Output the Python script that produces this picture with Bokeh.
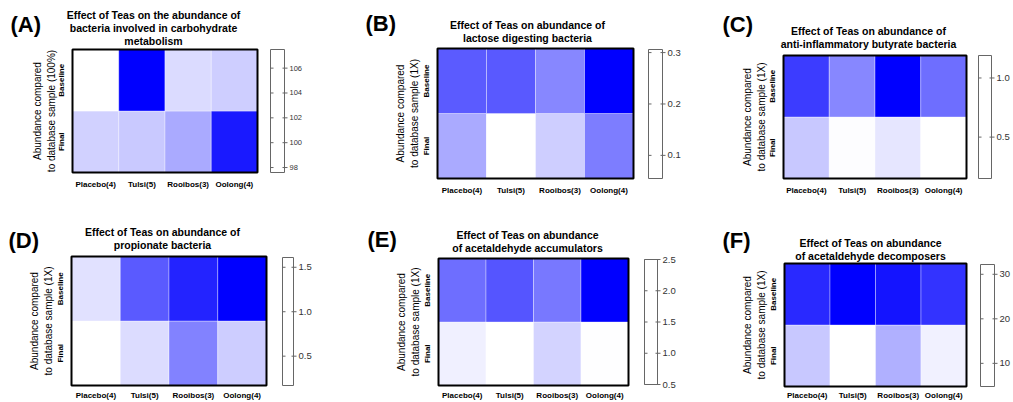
import math
from bokeh.plotting import figure
from bokeh.models import Range1d, LinearColorMapper, ColumnDataSource
from bokeh.core.properties import value
from bokeh.layouts import row, column
from bokeh.embed import file_html
from bokeh.resources import INLINE

# ---------------- data ----------------
teas = ["Placebo(4)", "Tulsi(5)", "Rooibos(3)", "Oolong(4)"]
conditions = ["Final", "Baseline"]

a_baseline = [97.6, 107.5, 99.0, 99.5]
a_final = [99.4, 99.7, 100.9, 106.5]
a_cb_range = [97.6, 107.5]
a_ticks = [98, 100, 102, 104, 106]

b_baseline = [0.216, 0.218, 0.173, 0.306]
b_final = [0.139, 0.055, 0.104, 0.183]
b_cb_range = [0.055, 0.306]
b_ticks = [0.1, 0.2, 0.3]

c_baseline = [0.946, 0.639, 1.19, 0.743]
c_final = [0.375, 0.16, 0.254, 0.15]
c_cb_range = [0.15, 1.19]
c_ticks = [0.5, 1.0]

d_baseline = [0.34, 1.10, 1.41, 1.61]
d_final = [0.17, 0.367, 0.876, 0.452]
d_cb_range = [0.17, 1.61]
d_ticks = [0.5, 1.0, 1.5]

e_baseline = [1.64, 1.83, 1.56, 2.5]
e_final = [0.62, 0.5, 0.85, 0.51]
e_cb_range = [0.5, 2.5]
e_ticks = [0.5, 1.0, 1.5, 2.0, 2.5]

f_baseline = [27.8, 32.2, 30.0, 26.7]
f_final = [10.7, 4.8, 13.3, 6.4]
f_cb_range = [4.8, 32.2]
f_ticks = [10, 20, 30]

letters = ["(A)", "(B)", "(C)", "(D)", "(E)", "(F)"]
titles = [
    "Effect of Teas on the abundance of\nbacteria involved in carbohydrate\nmetabolism",
    "Effect of Teas on abundance of\nlactose digesting bacteria",
    "Effect of Teas on abundance of\nanti-inflammatory butyrate bacteria",
    "Effect of Teas on abundance of\npropionate bacteria",
    "Effect of Teas on abundance\nof acetaldehyde accumulators",
    "Effect of Teas on abundance\nof acetaldehyde decomposers",
]
ylabel_pct = "Abundance compared\nto database sample (100%)"
ylabel_x = "Abundance compared\nto database sample (1X)"

# ---------------- style / layout (page pixels) ----------------
FONT = value("Liberation Sans")
PALETTE = ["#%02x%02xff" % (255 - i, 255 - i) for i in range(256)]
GRAY = "#666666"

# fig (x0, y0, w, h); heatmap x (left, right) / y (top, bottom); colourbar x (left, right) / y (top, bottom)
LAYOUT = [
    dict(fig=(0, 0, 330, 200), hx=(72, 257), hy=(49, 172), cx=(270, 284), cy=(49, 172),
         title=(153, 15), letter=(10, 24), cbfont="7.5px", ylab=28, xlab=12),
    dict(fig=(330, 0, 360, 200), hx=(437, 633), hy=(48, 178), cx=(648, 662), cy=(49, 178),
         title=(527, 25), letter=(365, 22.5), cbfont="9.5px", ylab=30, xlab=12),
    dict(fig=(690, 0, 322, 200), hx=(783, 966), hy=(55, 178), cx=(978, 991), cy=(55, 178),
         title=(868, 31), letter=(722, 24), cbfont="9.5px", ylab=29, xlab=12),
    dict(fig=(0, 200, 335, 201), hx=(71, 266), hy=(256, 385), cx=(282, 293), cy=(257, 385),
         title=(162, 232), letter=(8, 239.5), cbfont="9.5px", ylab=30, xlab=9.5),
    dict(fig=(335, 200, 355, 201), hx=(438, 628), hy=(258, 385), cx=(644, 657), cy=(259, 384),
         title=(527, 235), letter=(367, 239), cbfont="9.5px", ylab=30, xlab=9.5),
    dict(fig=(690, 200, 322, 201), hx=(784, 966), hy=(263, 386), cx=(980, 994), cy=(264, 386),
         title=(870, 243), letter=(722, 240), cbfont="9.5px", ylab=30, xlab=8.5),
]


def panel(idx, ylabel, baseline, final, cb_range, cb_ticks, fmt):
    L = LAYOUT[idx]
    x0, y0, w, h = L["fig"]
    hl, hr = L["hx"]
    ht, hb = L["hy"]
    cl, cr = L["cx"]
    ct, cbm = L["cy"]
    nx, ny = len(teas), len(conditions)
    ux = (hr - hl) / nx
    uy = (hb - ht) / ny
    lo, hi = cb_range
    per_px = (hi - lo) / (cbm - ct)

    def X(px):  # page x -> data x
        return (px - hl) / ux

    def Y(py):  # page y -> data y
        return (hb - py) / uy

    p = figure(width=w, height=h, x_range=Range1d(X(x0), X(x0 + w)),
               y_range=Range1d(Y(y0 + h), Y(y0)),
               output_backend="svg", toolbar_location=None,
               x_axis_location=None, y_axis_location=None,
               min_border_left=0, min_border_right=0, min_border_top=0, min_border_bottom=0)
    p.extra_y_ranges = {"cb": Range1d(lo + (cbm - (y0 + h)) * per_px, lo + (cbm - y0) * per_px)}
    p.xgrid.visible = False
    p.ygrid.visible = False
    p.outline_line_color = None
    p.title.visible = False
    p.background_fill_color = "white"
    p.border_fill_color = "white"

    # heatmap cells
    xs, ys, vals = [], [], []
    for r, series in enumerate([final, baseline]):
        for c, v in enumerate(series):
            xs.append(c + 0.5)
            ys.append(r + 0.5)
            vals.append(v)
    mapper = LinearColorMapper(palette=PALETTE, low=lo, high=hi)
    src = ColumnDataSource(dict(x=xs, y=ys, v=vals))
    p.rect("x", "y", 1, 1, source=src, fill_color={"field": "v", "transform": mapper},
           line_color="white", line_alpha=0.35, line_width=1)
    p.rect([nx / 2], [ny / 2], nx, ny, fill_color=None, line_color="black", line_width=2)

    # category labels
    p.text(x=[i + 0.5 for i in range(nx)], y=[Y(hb + L["xlab"])] * nx, text=teas,
           text_align="center", text_baseline="middle", text_font=FONT,
           text_font_style="bold", text_font_size="8px", text_color="black")
    p.text(x=[X(hl - 11.5)] * ny, y=[i + 0.5 for i in range(ny)], text=conditions,
           angle=math.pi / 2, text_align="center", text_baseline="middle", text_font=FONT,
           text_font_style="bold", text_font_size="8px", text_color="black")
    p.text(x=[X(hl - L["ylab"])], y=[ny / 2], text=[ylabel], angle=math.pi / 2,
           text_align="center", text_baseline="middle", text_font=FONT,
           text_font_size="10px", text_color="black", text_line_height=1.2)

    # colour bar (drawn white, as in the reference)
    n = len(cb_ticks)
    p.quad(left=[X(cl)], right=[X(cr)], bottom=[lo], top=[hi], y_range_name="cb",
           fill_color="white", line_color=GRAY, line_width=1)
    p.segment(x0=[X(cl)] * n, x1=[X(cl + 3)] * n, y0=cb_ticks, y1=cb_ticks,
              y_range_name="cb", line_color=GRAY, line_width=1)
    p.segment(x0=[X(cr - 2)] * n, x1=[X(cr + 3)] * n, y0=cb_ticks, y1=cb_ticks,
              y_range_name="cb", line_color=GRAY, line_width=1)
    p.text(x=[X(cr + 5)] * n, y=cb_ticks, text=[fmt % t for t in cb_ticks],
           y_range_name="cb", text_align="left", text_baseline="middle", text_font=FONT,
           text_font_size=L["cbfont"], text_color="#333333")

    # title and panel letter
    tx, ty = L["title"]
    p.text(x=[X(tx)], y=[Y(ty - 6.5)], text=[titles[idx]], text_align="center",
           text_baseline="top", text_font=FONT, text_font_style="bold",
           text_font_size="10.5px", text_color="black", text_line_height=1.08)
    lx, ly = L["letter"]
    p.text(x=[X(lx)], y=[Y(ly)], text=[letters[idx]], text_align="left",
           text_baseline="middle", text_font=FONT, text_font_style="bold",
           text_font_size="22px", text_color="black")
    return p


pA = panel(0, ylabel_pct, a_baseline, a_final, a_cb_range, a_ticks, "%d")
pB = panel(1, ylabel_x, b_baseline, b_final, b_cb_range, b_ticks, "%.1f")
pC = panel(2, ylabel_x, c_baseline, c_final, c_cb_range, c_ticks, "%.1f")
pD = panel(3, ylabel_x, d_baseline, d_final, d_cb_range, d_ticks, "%.1f")
pE = panel(4, ylabel_x, e_baseline, e_final, e_cb_range, e_ticks, "%.1f")
pF = panel(5, ylabel_x, f_baseline, f_final, f_cb_range, f_ticks, "%d")

layout = column(row(pA, pB, pC), row(pD, pE, pF))
open("out.html", "w").write(file_html(layout, INLINE))
